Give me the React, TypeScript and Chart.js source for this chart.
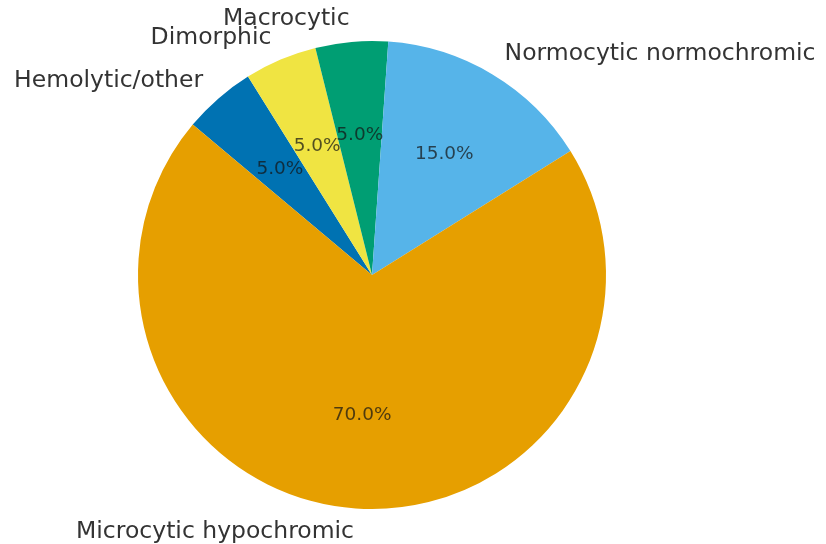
import React, { useEffect, useRef } from "react";
import { Chart, registerables } from "chart.js";

Chart.register(...registerables);

// Order is clockwise starting from the Hemolytic slice (matplotlib draws ccw)
const categories = [
  "Hemolytic/other",
  "Dimorphic",
  "Macrocytic",
  "Normocytic normochromic",
  "Microcytic hypochromic",
];
const values = [5, 5, 5, 15, 70];
const colors = ["#0072B2", "#F0E442", "#009E73", "#56B4E9", "#E69F00"];

const labelPlugin = {
  id: "pieLabels",
  afterDatasetsDraw(chart: any) {
    const ctx = chart.ctx;
    const meta = chart.getDatasetMeta(0);
    const data = chart.data.datasets[0].data as number[];
    const total = data.reduce((a: number, b: number) => a + b, 0);
    ctx.save();
    meta.data.forEach((arc: any, i: number) => {
      const { x, y, startAngle, endAngle, outerRadius } = arc.getProps(
        ["x", "y", "startAngle", "endAngle", "outerRadius"],
        true
      );
      const mid = (startAngle + endAngle) / 2;
      const cx = Math.cos(mid);
      const cy = Math.sin(mid);
      // outer label
      const lx = x + cx * outerRadius * 1.1;
      const ly = y + cy * outerRadius * 1.1;
      ctx.font = '23.5px "DejaVu Sans"';
      ctx.fillStyle = "#333333";
      ctx.textBaseline = "middle";
      ctx.textAlign = cx >= 0 ? "left" : "right";
      ctx.fillText(chart.data.labels[i], lx, ly);
      // percent label
      const px = x + cx * outerRadius * 0.6;
      const py = y + cy * outerRadius * 0.6;
      ctx.font = '18.5px "DejaVu Sans"';
      ctx.fillStyle = "rgba(20,20,20,0.72)";
      ctx.textAlign = "center";
      ctx.fillText(((data[i] / total) * 100).toFixed(1) + "%", px, py);
    });
    ctx.restore();
  },
};

export default function App() {
  const ref = useRef<HTMLCanvasElement>(null);
  useEffect(() => {
    if (!ref.current) return;
    const chart = new Chart(ref.current, {
      type: "pie",
      data: {
        labels: categories,
        datasets: [
          {
            data: values,
            backgroundColor: colors,
            borderWidth: 0,
          },
        ],
      },
      options: {
        responsive: false,
        animation: false,
        rotation: -50,
        layout: { padding: { left: 138, right: 220, top: 41, bottom: 35 } },
        plugins: {
          legend: { display: false },
          tooltip: { enabled: false },
        },
      },
      plugins: [labelPlugin],
    });
    return () => chart.destroy();
  }, []);
  return (
    <div style={{ position: "fixed", left: 0, top: 0, width: 826, height: 544, background: "#fff" }}>
      <canvas ref={ref} width={826} height={544} style={{ display: "block" }} />
    </div>
  );
}
